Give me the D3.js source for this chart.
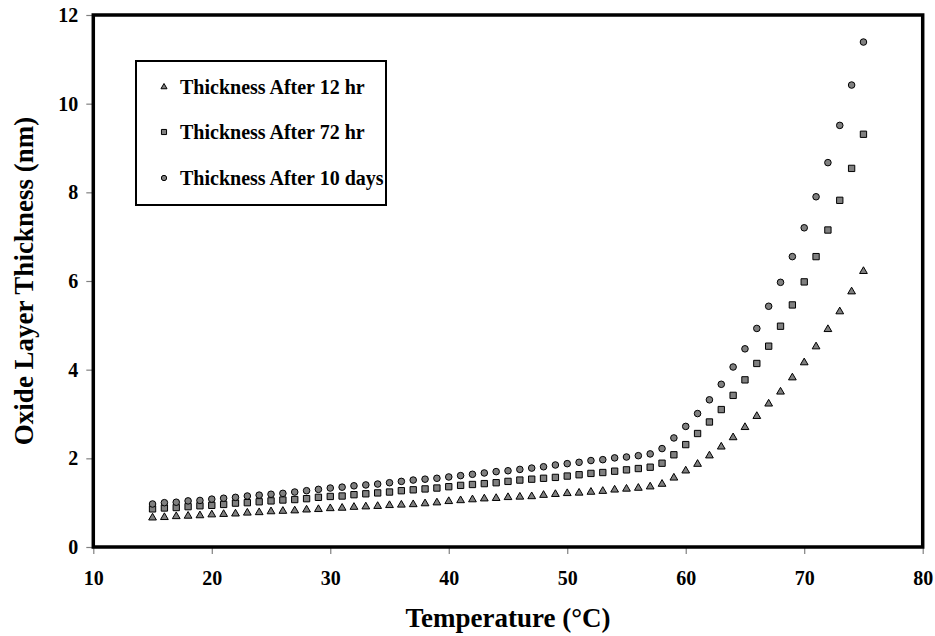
<!DOCTYPE html>
<html>
<head>
<meta charset="utf-8">
<script src="https://cdn.jsdelivr.net/npm/d3@7"></script>
<style>
  html, body { margin: 0; padding: 0; background: #fff; }
  svg { display: block; }
  text { font-family: "Liberation Serif", "Times New Roman", serif; font-weight: bold; fill: #000; }
</style>
</head>
<body>
<svg id="chart" width="935" height="636"></svg>
<script>
// ---- data ----
const temperatures = d3.range(15, 76); // 15..75 °C
const thickness12hr = [0.66,0.67,0.69,0.70,0.71,0.73,0.74,0.75,0.77,0.78,0.80,0.81,0.82,0.84,0.85,0.87,0.88,0.90,0.91,0.92,0.94,0.95,0.96,0.98,1.00,1.03,1.05,1.07,1.09,1.10,1.12,1.13,1.14,1.17,1.19,1.21,1.22,1.24,1.26,1.29,1.31,1.33,1.36,1.42,1.56,1.72,1.87,2.06,2.26,2.47,2.70,2.95,3.23,3.50,3.82,4.16,4.52,4.91,5.31,5.76,6.22];
const thickness72hr = [0.86,0.88,0.89,0.91,0.93,0.94,0.96,0.99,1.00,1.02,1.04,1.06,1.07,1.09,1.12,1.14,1.15,1.18,1.20,1.22,1.24,1.27,1.29,1.31,1.33,1.36,1.39,1.41,1.43,1.45,1.48,1.51,1.53,1.55,1.57,1.60,1.63,1.66,1.68,1.71,1.74,1.77,1.80,1.89,2.08,2.31,2.56,2.82,3.10,3.42,3.77,4.14,4.53,4.98,5.46,5.98,6.55,7.15,7.82,8.54,9.31];
const thickness10days = [0.97,1.00,1.01,1.04,1.05,1.08,1.10,1.12,1.15,1.17,1.19,1.21,1.24,1.27,1.30,1.33,1.35,1.38,1.40,1.42,1.45,1.48,1.51,1.53,1.55,1.58,1.61,1.64,1.67,1.70,1.72,1.75,1.78,1.81,1.85,1.88,1.91,1.95,1.97,2.01,2.03,2.06,2.10,2.22,2.46,2.72,3.01,3.32,3.67,4.06,4.47,4.93,5.43,5.97,6.55,7.20,7.90,8.67,9.51,10.42,11.39];
const seriesNames = ["Thickness After 12 hr", "Thickness After 72 hr", "Thickness After 10 days"];
const xTicks = [10, 20, 30, 40, 50, 60, 70, 80];
const yTicks = [0, 2, 4, 6, 8, 10, 12];
const xTitle = "Temperature (°C)";
const yTitle = "Oxide Layer Thickness (nm)";

// ---- layout ----
const svg = d3.select("#chart");
const pLeft = 93.3, pRight = 922.7, pTop = 15, pBottom = 547;
const x = d3.scaleLinear().domain([10, 80]).range([pLeft, pRight]);
const y = d3.scaleLinear().domain([0, 12]).range([pBottom, pTop]);

const seriesData = [thickness12hr, thickness72hr, thickness10days];
const symbols = [d3.symbolTriangle, d3.symbolSquare, d3.symbolCircle];
const sizes = [26, 40, 34];
const legendSizes = [16, 26, 22];
const serif = "'Liberation Serif', 'Times New Roman', serif";

// axes
const xAxis = d3.axisBottom(x).tickValues(xTicks).tickFormat(d3.format("d")).tickSizeInner(7).tickSizeOuter(0).tickPadding(17);
const yAxis = d3.axisLeft(y).tickValues(yTicks).tickFormat(d3.format("d")).tickSizeInner(7).tickSizeOuter(0).tickPadding(8);

const gx = svg.append("g").attr("transform", `translate(0,${pBottom})`).call(xAxis);
const gy = svg.append("g").attr("transform", `translate(${pLeft},0)`).call(yAxis);
[gx, gy].forEach(g => {
  g.attr("font-family", serif).attr("font-size", 20).attr("font-weight", "bold");
  g.select(".domain").remove();
  g.selectAll(".tick line").attr("stroke", "#808080").attr("stroke-width", 1.2);
  g.selectAll(".tick text").attr("fill", "#000");
});

// frame
svg.append("rect")
  .attr("x", pLeft).attr("y", pTop)
  .attr("width", pRight - pLeft).attr("height", pBottom - pTop)
  .attr("fill", "none").attr("stroke", "#000").attr("stroke-width", 3.5);

// points
seriesData.forEach((vals, si) => {
  svg.append("g").selectAll("path")
    .data(vals.map((v, i) => [temperatures[i], v]))
    .join("path")
    .attr("transform", d => `translate(${x(d[0])},${y(d[1])})`)
    .attr("d", d3.symbol().type(symbols[si]).size(sizes[si]))
    .attr("fill", "#808080")
    .attr("stroke", "#000")
    .attr("stroke-width", 1);
});

// legend
const lg = svg.append("g");
lg.append("rect")
  .attr("x", 136).attr("y", 61).attr("width", 250).attr("height", 144)
  .attr("fill", "#fff").attr("stroke", "#000").attr("stroke-width", 2);
const rowY = [87, 132, 178];
seriesNames.forEach((name, i) => {
  lg.append("path")
    .attr("transform", `translate(164,${rowY[i]})`)
    .attr("d", d3.symbol().type(symbols[i]).size(legendSizes[i]))
    .attr("fill", "#808080").attr("stroke", "#000").attr("stroke-width", 1);
  lg.append("text")
    .attr("x", 180).attr("y", rowY[i] + 7)
    .attr("font-family", serif).attr("font-weight", "bold")
    .attr("font-size", 20)
    .text(name);
});

// axis titles
svg.append("text")
  .attr("x", (pLeft + pRight) / 2).attr("y", 627)
  .attr("text-anchor", "middle")
  .attr("font-family", serif).attr("font-weight", "bold")
  .attr("font-size", 27)
  .text(xTitle);
svg.append("text")
  .attr("transform", `translate(33,${(pTop + pBottom) / 2}) rotate(-90)`)
  .attr("text-anchor", "middle")
  .attr("font-family", serif).attr("font-weight", "bold")
  .attr("font-size", 27)
  .text(yTitle);
</script>
</body>
</html>
